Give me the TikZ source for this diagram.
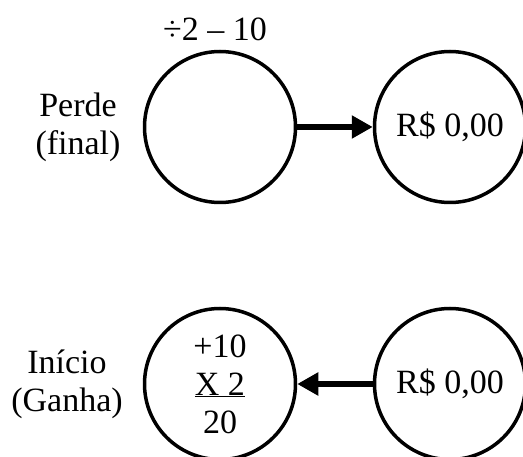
\documentclass[tikz,border=0pt]{standalone}
\usepackage{fontspec}
\setmainfont{Liberation Serif}
\usetikzlibrary{arrows.meta}

\begin{document}
\begin{tikzpicture}[x=1pt,
            y=-1pt,
            >={Triangle[length=21pt,width=22pt]},
            every node/.style={font=\fontsize{34}{38}\selectfont},
            state/.style={circle,draw,line width=3.5pt,minimum size=151pt,inner sep=0pt},
            flow/.style={->,line width=6pt}]

        \useasboundingbox (0,0) rectangle (523,457);

        \node[state]              (perde)  at (220,127) {};
        \node[state]              (zeroA)  at (450,127) {R\$ 0,00};
        \node[state,align=center] (inicio) at (220,384) {+10\\\underline{X 2}\\20};
        \node[state]              (zeroB)  at (450,384) {R\$ 0,00};

        \node                     (conta)     at (215,29)  {÷2 – 10};
        \node[align=center]       (lblperde)  at (78,127)  {Perde\\(final)};
        \node[align=center]       (lblinicio) at (67,384)  {Início\\(Ganha)};

        \path[flow] (perde) edge (zeroA)
                    (zeroB) edge (inicio);

\end{tikzpicture}
\end{document}
